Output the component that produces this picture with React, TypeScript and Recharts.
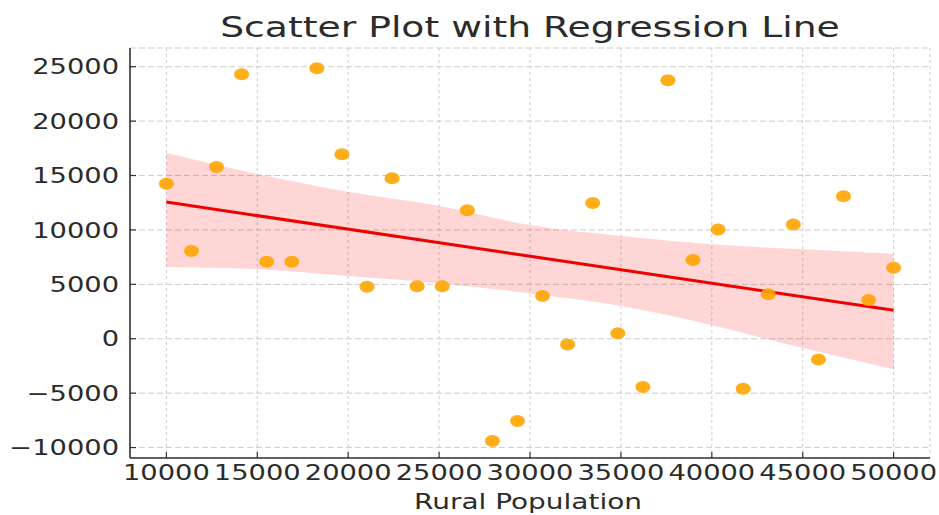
import { ComposedChart, Scatter, Line, Area, XAxis, YAxis, CartesianGrid } from 'recharts'

// rural population vs. value, one point per observation
const popX = [
  10000, 11379, 12759, 14138, 15517, 16897, 18276, 19655, 21034, 22414,
  23793, 25172, 26552, 27931, 29310, 30690, 32069, 33448, 34828, 36207,
  37586, 38966, 40345, 41724, 43103, 44483, 45862, 47241, 48621, 50000,
]
const valueY = [
  14250, 8060, 15780, 24300, 7080, 7080, 24850, 16950, 4780, 14740,
  4820, 4820, 11800, -9400, -7560, 3920, -520, 12470, 500, -4440,
  23750, 7230, 10050, -4600, 4080, 10510, -1900, 13090, 3560, 6530,
]

// confidence band around the fit, sampled at the tick positions
const bandX = [10000, 15000, 20000, 25000, 30000, 35000, 40000, 45000, 50000]
const bandLow = [6590, 6380, 5760, 5100, 4150, 3000, 1250, -850, -2810]
const bandHigh = [17100, 15140, 13500, 12200, 10450, 9440, 8680, 8220, 7810]

// fitted line end points
const fitX = [10000, 50000]
const fitY = [12560, 2610]

const xTicks = [10000, 15000, 20000, 25000, 30000, 35000, 40000, 45000, 50000]
const yTicks = [-10000, -5000, 0, 5000, 10000, 15000, 20000, 25000]

const points = popX.map((x, i) => ({ x, y: valueY[i] }))
const rows = bandX.map((x, i) => {
  const k = fitX.indexOf(x)
  return { x, band: [bandLow[i], bandHigh[i]], fit: k >= 0 ? fitY[k] : null }
})

const FONT = 'DejaVu Sans, sans-serif'
const INK = '#2b2b2b'
const SX = 1.3

const fmt = (v: number) => (v < 0 ? `\u2212${Math.abs(v)}` : `${v}`)

const XTick = ({ x, y, payload }: any) => (
  <text transform={`translate(${x},${y}) scale(${SX},1)`} textAnchor="middle" dy="0.72em" fontSize={21} fontFamily={FONT} fill={INK}>
    {fmt(payload.value)}
  </text>
)

const YTick = ({ x, y, payload }: any) => (
  <text transform={`translate(${x},${y}) scale(${SX},1)`} textAnchor="end" dy="0.36em" fontSize={21} fontFamily={FONT} fill={INK}>
    {fmt(payload.value)}
  </text>
)

const Dot = (p: any) => <ellipse cx={p.cx} cy={p.cy} rx={7.5} ry={6} fill="#FFA500" fillOpacity={0.9} />

export default function App() {
  return (
    <div style={{ position: 'absolute', left: 0, top: 0, width: 939, height: 515, background: '#fff' }}>
      <ComposedChart width={939} height={515} data={rows} margin={{ top: 48, right: 9, bottom: 0, left: 0 }}>
        <CartesianGrid horizontal={false} stroke="#cccccc" strokeDasharray="3 3" />
        <CartesianGrid vertical={false} stroke="#cccccc" strokeDasharray="6 3" />
        <XAxis
          type="number"
          dataKey="x"
          domain={[8000, 52000]}
          ticks={xTicks}
          interval={0}
          height={57}
          tick={<XTick />}
          tickSize={-6}
          tickMargin={13}
          axisLine={{ stroke: '#333', strokeWidth: 1.6 }}
          tickLine={{ stroke: '#333', strokeWidth: 1.2 }}
        />
        <YAxis
          type="number"
          domain={[-10960, 26720]}
          ticks={yTicks}
          interval={0}
          width={130}
          tick={<YTick />}
          tickSize={-6}
          tickMargin={17}
          axisLine={{ stroke: '#333', strokeWidth: 1.6 }}
          tickLine={{ stroke: '#333', strokeWidth: 1.2 }}
        />
        <Area dataKey="band" type="monotone" stroke="none" fill="#ff0000" fillOpacity={0.16} isAnimationActive={false} />
        <Line dataKey="fit" connectNulls stroke="#ee0000" strokeWidth={3} dot={false} isAnimationActive={false} />
        <Scatter data={points} dataKey="y" shape={<Dot />} isAnimationActive={false} />
      </ComposedChart>
      <svg width={939} height={515} style={{ position: 'absolute', left: 0, top: 0, pointerEvents: 'none' }}>
        <text transform={`translate(530,37) scale(${SX},1)`} textAnchor="middle" fontSize={29} fontFamily={FONT} fill={INK}>
          Scatter Plot with Regression Line
        </text>
        <text transform={`translate(528,509) scale(${SX},1)`} textAnchor="middle" fontSize={21.5} fontFamily={FONT} fill={INK}>
          Rural Population
        </text>
      </svg>
    </div>
  )
}
